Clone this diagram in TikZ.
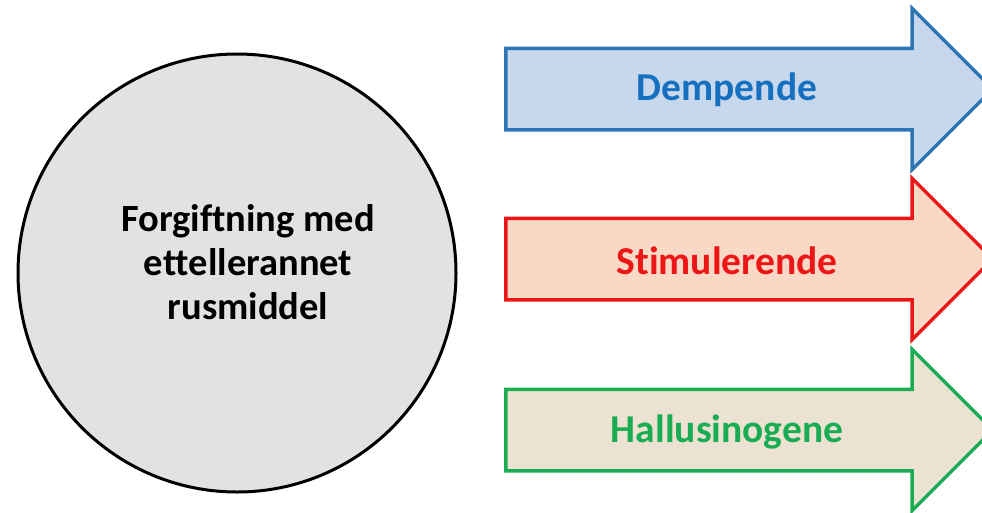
\documentclass[tikz,border=0pt]{standalone}
\usepackage{fontspec}
\setmainfont{Carlito}[Ligatures=NoCommon]
\usetikzlibrary{positioning,shapes.arrows}
\definecolor{RusBlue}{RGB}{46,117,182}
\definecolor{RusBlueFill}{RGB}{199,215,236}
\definecolor{RusBlueText}{RGB}{22,112,192}
\definecolor{RusRed}{RGB}{236,22,22}
\definecolor{RusRedFill}{RGB}{249,216,198}
\definecolor{RusGreen}{RGB}{26,172,82}
\definecolor{RusSand}{RGB}{236,226,210}
\definecolor{RusGray}{RGB}{226,226,226}
\tikzset{
  rus/circle/.style={
    circle,
    draw=black,
    line width=3pt,
    fill=RusGray,
    minimum size=438pt,
    inner sep=0pt
  },
  rus/arrow/.style={
    single arrow,
    line width=3.5pt,
    minimum height=487pt,
    inner xsep=0pt,
    inner ysep=39pt,
    single arrow head extend=40pt,
    single arrow tip angle=90,
    anchor=tail
  },
  rus/label/.style={font=\fontsize{39.5}{46}\selectfont\bfseries, align=center},
  rus/bigtext/.style={font=\fontsize{38.5}{44}\selectfont\bfseries, align=center}
}

\begin{document}
\begin{tikzpicture}[x=1pt,y=-1pt]
  \useasboundingbox (0,0) rectangle (982,512);
  \begin{scope}
    \clip (0,0) rectangle (982,512);
    \node[rus/circle] (poison) at (237,273) {};
    \node[rus/bigtext] (poisontext) at (248,262) {Forgiftning med\\ettellerannet\\rusmiddel};
    \node[rus/arrow,draw=RusBlue,fill=RusBlueFill] (demp) at (504,89) {};
    \node[rus/label,text=RusBlueText] (demptext) at (727,90) {Dempende};
    \node[rus/arrow,draw=RusRed,fill=RusRedFill] (stim) at (504,259) {};
    \node[rus/label,text=RusRed] (stimtext) at (727,261) {Stimulerende};
    \node[rus/arrow,draw=RusGreen,fill=RusSand] (hall) at (504,430) {};
    \node[rus/label,text=RusGreen] (halltext) at (727,432) {Hallusinogene};
  \end{scope}
\end{tikzpicture}
\end{document}
